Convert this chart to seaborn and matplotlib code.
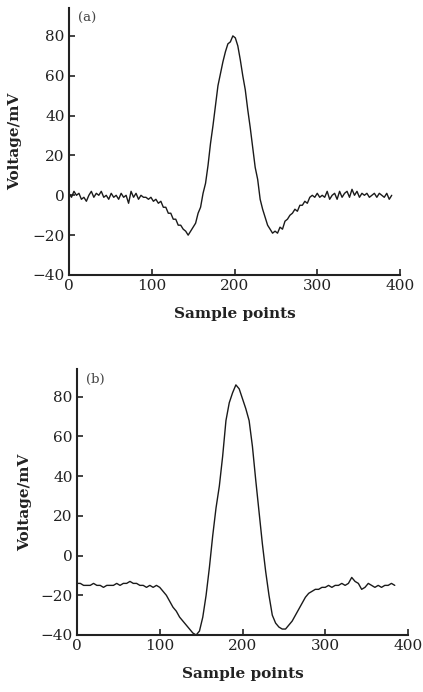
import numpy as np
import pandas as pd
import matplotlib
matplotlib.use("Agg")
import matplotlib.pyplot as plt
import seaborn as sns

# ---------------- data ----------------
# (a) sampled every 3 points, 0..390
sample_a = np.arange(0, 391, 3)
voltage_a = [
    1, -1, 2, 0, 1, -2, -1, -3, 0, 2, -1, 1, 0, 2, -1, 0, -2, 1, -1, 0,
    -2, 1, -1, 0, -4, 2, -1, 1, -2, 0, -1, -1, -2, -1,
    -3, -2, -4, -3, -6, -6, -9, -9, -12, -12, -15, -15, -17, -18, -20,
    -18, -16, -14, -9, -6, 1, 6, 15, 26, 35, 45, 55, 61, 67, 72, 76, 77, 80,
    79, 75, 68, 60, 53, 43, 34, 24, 14, 8, -2, -7, -11, -15, -17, -19, -18,
    -19, -16, -17, -13, -12, -10, -9, -7, -8, -5, -5, -3, -4, -1, 0, -1, 1,
    -1, 0, -1, 2, -2, 0, 1, -2, 2, -1, 1, 2, -1, 3, 0, 2, -1, 1, 0, 1, -1,
    0, 1, -1, 1, 0, -1, 1, -2, 0,
]
# (b) sampled every 4 points, 0..384
sample_b = np.arange(0, 385, 4)
voltage_b = [
    -14, -14, -15, -15, -15, -14, -15, -15, -16, -15, -15, -15, -14, -15,
    -14, -14, -13, -14, -14, -15, -15, -16, -15, -16, -15, -16,
    -18, -20, -23, -26, -28, -31, -33, -35, -37, -39, -40, -38, -31, -20,
    -6, 10, 24, 35, 50, 68, 77, 82, 86, 84, 79, 74, 68, 55, 38, 22, 6, -8,
    -20, -30, -34, -36, -37, -37, -35, -33, -30, -27, -24, -21, -19, -18,
    -17, -17, -16, -16, -15, -16, -15, -15, -14, -15, -14, -11, -13, -14,
    -17, -16, -14, -15, -16, -15, -16, -15, -15, -14, -15,
]
assert len(sample_a) == len(voltage_a), (len(sample_a), len(voltage_a))
assert len(sample_b) == len(voltage_b), (len(sample_b), len(voltage_b))

x_ticks = [0, 100, 200, 300, 400]
y_ticks = [-40, -20, 0, 20, 40, 60, 80]
panel_labels = ["(a)", "(b)"]
x_label = "Sample points"
y_label = "Voltage/mV"

# ---------------- style ----------------
sns.set_style("ticks")
plt.rcParams["font.family"] = ["DejaVu Serif"]
plt.rcParams["axes.unicode_minus"] = True

W, H = 423, 692
fig = plt.figure(figsize=(W / 100, H / 100), dpi=100)

def px_axes(left, top, right, bottom):
    return fig.add_axes([left / W, 1 - bottom / H, (right - left) / W, (bottom - top) / H])

axes = [px_axes(69, 8, 400, 275), px_axes(77, 369, 408, 635)]
datasets = [(sample_a, voltage_a), (sample_b, voltage_b)]
ylabel_x = [22, 32]

for i, (ax, (xs, ys)) in enumerate(zip(axes, datasets)):
    df = pd.DataFrame({"x": xs, "y": ys})
    sns.lineplot(data=df, x="x", y="y", ax=ax, color="#1a1a1a", linewidth=1.0)
    ax.set_xlim(0, 400)
    ax.set_ylim(-40, 94)
    ax.set_xticks(x_ticks)
    ax.set_yticks(y_ticks)
    for s in ["top", "right"]:
        ax.spines[s].set_visible(False)
    for s in ["left", "bottom"]:
        ax.spines[s].set_linewidth(1.5)
        ax.spines[s].set_color("#222222")
    ax.tick_params(direction="in", length=4, width=1.2, labelsize=11,
                   colors="#222222", pad=3)
    ax.set_xlabel(x_label, fontsize=11, fontweight="bold", color="#222222", labelpad=10)
    ax.set_ylabel(y_label, fontsize=11, fontweight="bold", color="#222222")
    # place y label at given pixel x
    ax.yaxis.set_label_coords((ylabel_x[i] - (69 if i == 0 else 77)) / 331, 0.5)
    ax.text(0.055, 0.985, panel_labels[i], transform=ax.transAxes, fontsize=9.5,
            color="#444444", ha="center", va="top")

fig.savefig("out.png", dpi=100, facecolor="white")
